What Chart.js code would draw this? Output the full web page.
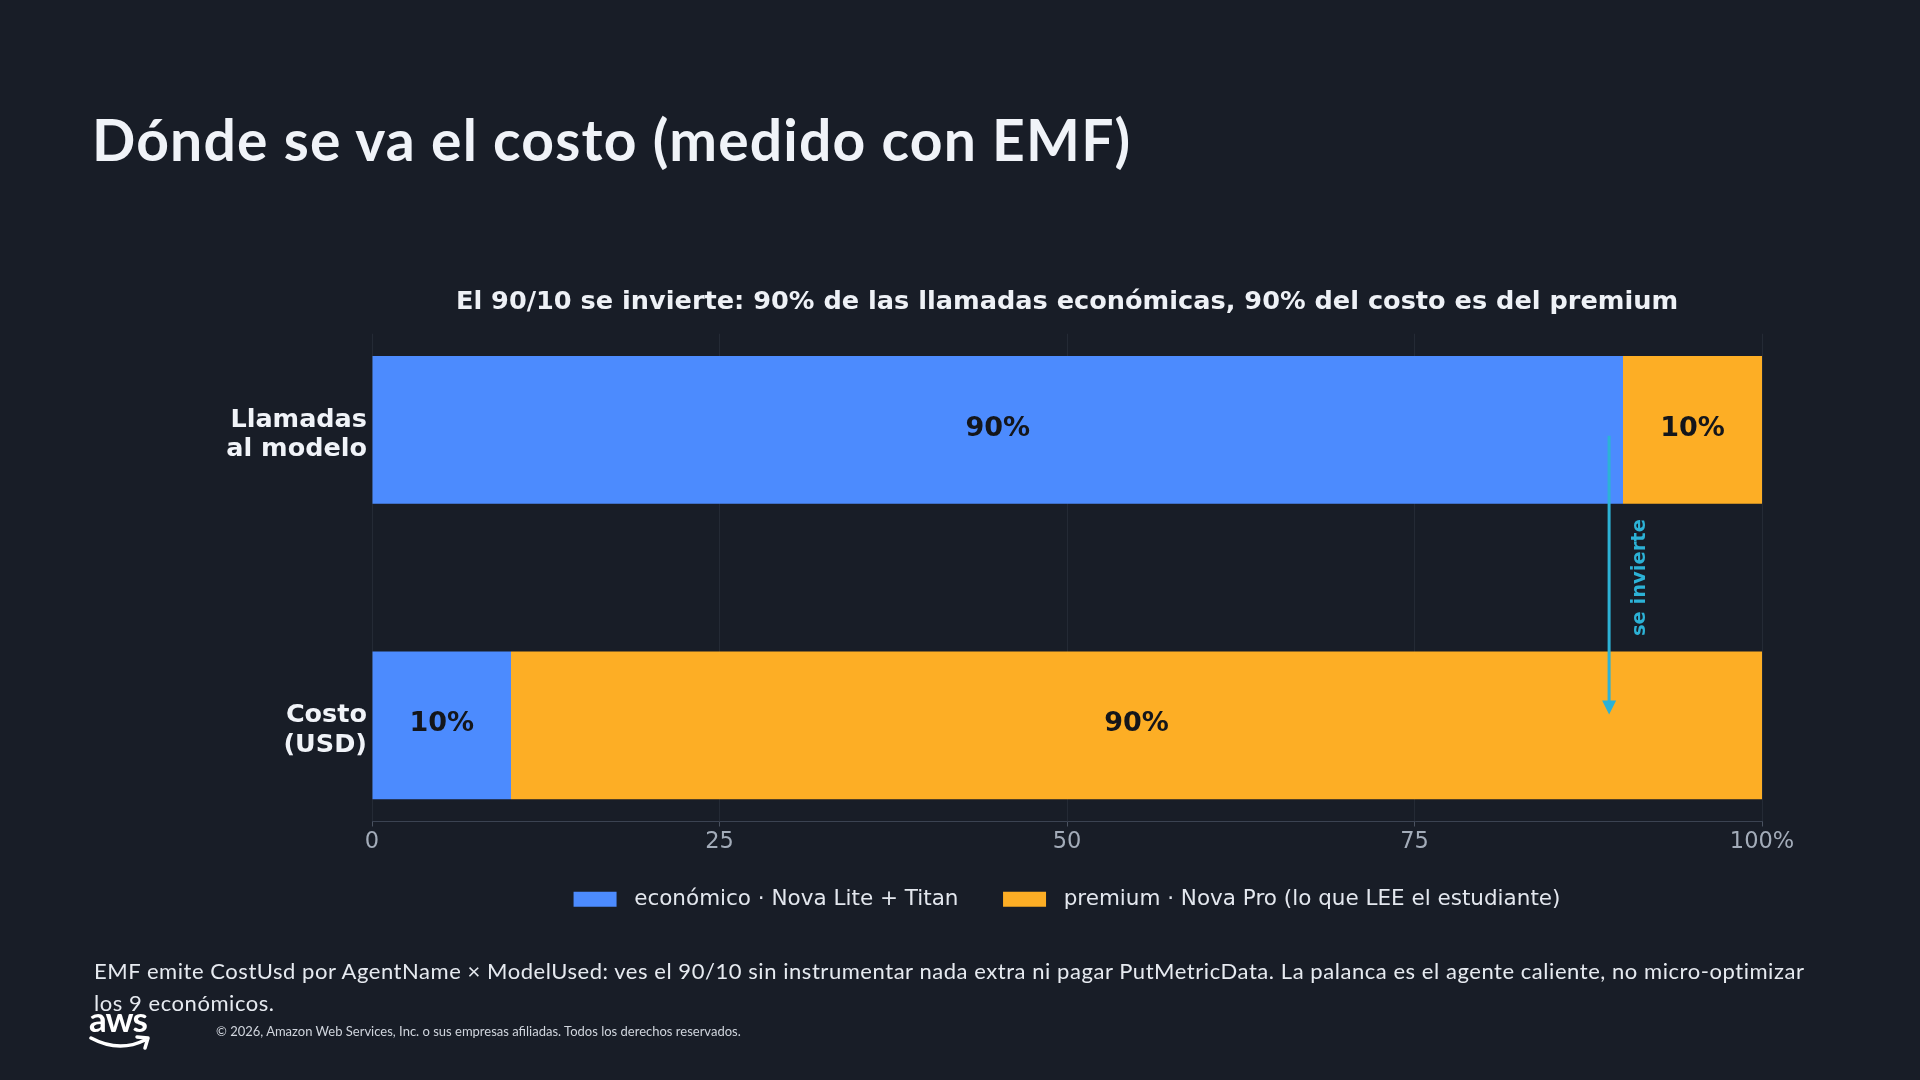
<!DOCTYPE html>
<html lang="es">
<head>
<meta charset="utf-8">
<title>Dónde se va el costo (medido con EMF)</title>
<script src="https://cdn.jsdelivr.net/npm/chart.js@4.4.1/dist/chart.umd.min.js"></script>
<style>
  html, body { margin: 0; padding: 0; background: #181d27; width: 1920px; height: 1080px; overflow: hidden; }
  #slideTitle { position: absolute; left: 92px; top: 111px; font: 700 57px Lato, sans-serif; letter-spacing: 1.2px; color: #f0f3f8; line-height: 1; white-space: nowrap; }
  #chart { position: absolute; left: 0; top: 0; }
  #note { position: absolute; left: 94px; top: 955px; font: 400 22px Lato, sans-serif; letter-spacing: 0.55px; color: #e6eaf0; line-height: 31.5px; white-space: nowrap; }
  #logo { position: absolute; left: 89px; top: 1006px; }
  #copy { position: absolute; left: 216px; top: 1023px; font: 400 13px Lato, sans-serif; color: #d0d5dd; white-space: nowrap; }
</style>
</head>
<body>
<div id="slideTitle">Dónde se va el costo (medido con EMF)</div>
<canvas id="chart" width="1920" height="1080"></canvas>
<div id="note">EMF emite CostUsd por AgentName × ModelUsed: ves el 90/10 sin instrumentar nada extra ni pagar PutMetricData. La palanca es el agente caliente, no micro-optimizar<br>los 9 económicos.</div>
<svg id="logo" width="72" height="48" viewBox="0 0 72 48">
  <text x="0" y="26" font-family="Lato" font-weight="700" font-size="35" fill="#ffffff" letter-spacing="-1">aws</text>
  <path d="M2 32 Q30 47 56 34" stroke="#ffffff" stroke-width="3.5" fill="none" stroke-linecap="round"/>
  <path d="M48 31 L59 32 L56 42" stroke="#ffffff" stroke-width="3.5" fill="none" stroke-linecap="round" stroke-linejoin="round"/>
</svg>
<div id="copy">© 2026, Amazon Web Services, Inc. o sus empresas afiliadas. Todos los derechos reservados.</div>

<script>
const rowLabels = [['Llamadas', 'al modelo'], ['Costo', '(USD)']];
const rowPositions = [0, 1];
const economico = [90, 10];
const premium = [10, 90];
const seriesNames = ['económico · Nova Lite + Titan', 'premium · Nova Pro (lo que LEE el estudiante)'];
const xTicks = [0, 25, 50, 75, 100];
const chartTitle = 'El 90/10 se invierte: 90% de las llamadas económicas, 90% del costo es del premium';

// arrow "se invierte"
const arrowX = 89;
const arrowFrom = 0.02;
const arrowTo = 0.96;
const arrowText = 'se invierte';
const arrowTextX = 91.2;
const arrowTextY = 0.5;

Chart.defaults.font.family = '"DejaVu Sans"';

const barLabels = {
  id: 'barLabels',
  afterDatasetsDraw(chart) {
    const ctx = chart.ctx;
    ctx.save();
    ctx.font = 'bold 27px "DejaVu Sans"';
    ctx.fillStyle = '#14161b';
    ctx.textAlign = 'center';
    ctx.textBaseline = 'middle';
    chart.data.datasets.forEach((ds, i) => {
      chart.getDatasetMeta(i).data.forEach((bar, j) => {
        const p = bar.getCenterPoint();
        ctx.fillText(ds.data[j].x + '%', p.x, p.y - 1);
      });
    });
    ctx.restore();
  }
};

const flipArrow = {
  id: 'flipArrow',
  afterDatasetsDraw(chart) {
    const {ctx, scales: {x, y}} = chart;
    const px = x.getPixelForValue(arrowX);
    const y0 = y.getPixelForValue(arrowFrom);
    const y1 = y.getPixelForValue(arrowTo);
    ctx.save();
    ctx.strokeStyle = '#2cb2d6';
    ctx.fillStyle = '#2cb2d6';
    ctx.lineWidth = 3;
    ctx.beginPath();
    ctx.moveTo(px, y0);
    ctx.lineTo(px, y1 - 8);
    ctx.stroke();
    ctx.beginPath();
    ctx.moveTo(px, y1 + 1);
    ctx.lineTo(px - 7, y1 - 13);
    ctx.lineTo(px + 7, y1 - 13);
    ctx.closePath();
    ctx.fill();
    ctx.translate(x.getPixelForValue(arrowTextX), y.getPixelForValue(arrowTextY));
    ctx.rotate(-Math.PI / 2);
    ctx.font = 'bold 19.5px "DejaVu Sans"';
    ctx.textAlign = 'center';
    ctx.textBaseline = 'middle';
    ctx.fillText(arrowText, 0, 0);
    ctx.restore();
  }
};

new Chart(document.getElementById('chart'), {
  type: 'bar',
  data: {
    datasets: [
      {
        label: seriesNames[0],
        data: rowPositions.map((r, i) => ({x: economico[i], y: r})),
        backgroundColor: '#4c8bfe',
        categoryPercentage: 1,
        barPercentage: 0.5
      },
      {
        label: seriesNames[1],
        data: rowPositions.map((r, i) => ({x: premium[i], y: r})),
        backgroundColor: '#fdae25',
        categoryPercentage: 1,
        barPercentage: 0.5
      }
    ]
  },
  options: {
    indexAxis: 'y',
    responsive: false,
    animation: false,
    devicePixelRatio: 1,
    layout: {padding: {left: 0, right: 158, top: 287, bottom: 160}},
    scales: {
      x: {
        type: 'linear',
        stacked: true,
        min: 0,
        max: 100,
        afterBuildTicks: s => { s.ticks = xTicks.map(v => ({value: v})); },
        afterFit: s => { s.height = 40; },
        grid: {color: '#242a35', tickColor: '#4a5260', tickLength: 5},
        border: {color: '#3b4352'},
        ticks: {
          color: '#a3acb9',
          font: {size: 22.5},
          padding: 2,
          callback: v => v === 100 ? '100%' : v
        }
      },
      y: {
        type: 'linear',
        stacked: true,
        reverse: true,
        offset: false,
        min: -0.325,
        max: 1.325,
        afterBuildTicks: s => { s.ticks = rowPositions.map(v => ({value: v})); },
        afterFit: s => { s.width = 372; },
        grid: {display: false, drawTicks: false},
        border: {display: false},
        ticks: {
          color: '#f0f3f8',
          font: {size: 25.5, weight: 'bold', lineHeight: 1.15},
          padding: 5,
          labelOffset: 5,
          callback: v => rowLabels[v]
        }
      }
    },
    plugins: {
      title: {
        display: true,
        text: chartTitle,
        fullSize: false,
        color: '#eef1f6',
        font: {size: 25.6, weight: 'bold'},
        padding: {top: 0, bottom: 16}
      },
      legend: {
        position: 'bottom',
        fullSize: false,
        labels: {
          boxWidth: 43,
          boxHeight: 15,
          padding: 27,
          color: '#e3e7ee',
          font: {size: 21.5},
          generateLabels: chart => {
            const items = Chart.defaults.plugins.legend.labels.generateLabels(chart);
            return items.map((item, i) => ({
              ...item,
              text: '\u00a0' + item.text + (i < items.length - 1 ? '\u2002\u00a0' : '')
            }));
          }
        }
      },
      tooltip: {enabled: false}
    }
  },
  plugins: [barLabels, flipArrow]
});
</script>
</body>
</html>
